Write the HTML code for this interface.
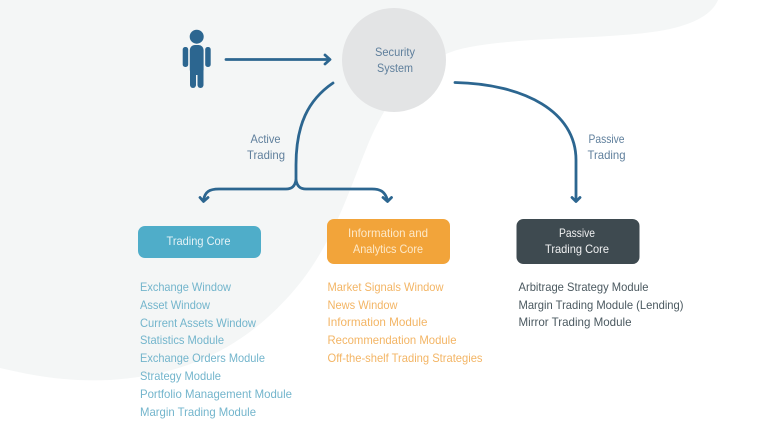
<!DOCTYPE html>
<html><head><meta charset="utf-8"><style>
html,body{margin:0;padding:0;background:#fff;width:781px;height:445px;overflow:hidden}
svg{display:block}
text{font-family:"Liberation Sans",sans-serif;font-size:12px}
</style></head><body>
<svg width="781" height="445" viewBox="0 0 781 445" xmlns="http://www.w3.org/2000/svg">
<path d="M0 0H718C712 14 695 24 665 30C610 40 530 36 470 47C425 55 395 85 372 135C350 185 335 245 290 295C245 345 190 375 110 380C65 382 30 375 0 368Z" fill="#f4f6f6"/>
<circle cx="394" cy="60" r="52" fill="#e3e4e5"/>
<g fill="#2c6690">
<circle cx="196.700" cy="36.700" r="7"/>
<rect x="189.800" y="45" width="13.800" height="30" rx="5"/>
<rect x="182.700" y="47" width="5.500" height="20" rx="2.500"/>
<rect x="205.200" y="47" width="5.500" height="20" rx="2.500"/>
<rect x="190" y="62" width="6" height="26" rx="3"/>
<rect x="197.500" y="62" width="6" height="26" rx="3"/>
</g>
<g fill="none" stroke="#2c6690" stroke-width="2.800" stroke-linecap="round" stroke-linejoin="round">
<path d="M226 59.500H329"/><path d="M325 55L330 59.500L325 64"/>
<path d="M333 83C308 100 296 125 296 165V180C295 186 292 189 286 189H219C209 189 205 192 203.500 200"/>
<path d="M296 180C297 186 300 189 306 189H372C381 189 385 192 387.500 200"/>
<path d="M200 197.500L203.500 201.500L208 197.500"/><path d="M383 197.500L387.500 201.500L391.500 197.500"/>
<path d="M455 82.500C525 84 576 112 576 160V201"/><path d="M572 197.500L576 201.500L580 197.500"/>
</g>
<rect x="138" y="226" width="123" height="32" rx="7" fill="#4fadc9"/>
<rect x="327" y="219" width="123" height="45" rx="7" fill="#f2a43a"/>
<rect x="516.500" y="219" width="123" height="45" rx="7" fill="#3e4a50"/>
<g text-anchor="middle">
<g fill="#5f7f9c">
<text x="395" y="56" textLength="40" lengthAdjust="spacingAndGlyphs">Security</text>
<text x="395" y="72" textLength="36" lengthAdjust="spacingAndGlyphs">System</text>
<text x="265.500" y="143" textLength="30" lengthAdjust="spacingAndGlyphs">Active</text>
<text x="266" y="159" textLength="38" lengthAdjust="spacingAndGlyphs">Trading</text>
<text x="606.500" y="143" textLength="36" lengthAdjust="spacingAndGlyphs">Passive</text>
<text x="606.500" y="159" textLength="38" lengthAdjust="spacingAndGlyphs">Trading</text>
</g>
<text x="198.500" y="245" fill="#e4f2f6" textLength="64" lengthAdjust="spacingAndGlyphs">Trading Core</text>
<g fill="#fde9c9">
<text x="388" y="237" textLength="80" lengthAdjust="spacingAndGlyphs">Information and</text>
<text x="388" y="253" textLength="70" lengthAdjust="spacingAndGlyphs">Analytics Core</text>
</g>
<g fill="#f0f1f2">
<text x="577" y="237" textLength="36" lengthAdjust="spacingAndGlyphs">Passive</text>
<text x="577" y="253" textLength="64" lengthAdjust="spacingAndGlyphs">Trading Core</text>
</g>
</g>
<g fill="#73b5cc">
<text x="140" y="291" textLength="91" lengthAdjust="spacingAndGlyphs">Exchange Window</text>
<text x="140" y="309" textLength="70" lengthAdjust="spacingAndGlyphs">Asset Window</text>
<text x="140" y="327" textLength="116" lengthAdjust="spacingAndGlyphs">Current Assets Window</text>
<text x="140" y="344" textLength="84" lengthAdjust="spacingAndGlyphs">Statistics Module</text>
<text x="140" y="362" textLength="125" lengthAdjust="spacingAndGlyphs">Exchange Orders Module</text>
<text x="140" y="380" textLength="81" lengthAdjust="spacingAndGlyphs">Strategy Module</text>
<text x="140" y="398" textLength="152" lengthAdjust="spacingAndGlyphs">Portfolio Management Module</text>
<text x="140" y="416" textLength="116" lengthAdjust="spacingAndGlyphs">Margin Trading Module</text>
</g>
<g fill="#f3b565">
<text x="327.500" y="291" textLength="116" lengthAdjust="spacingAndGlyphs">Market Signals Window</text>
<text x="327.500" y="309" textLength="70" lengthAdjust="spacingAndGlyphs">News Window</text>
<text x="327.500" y="326" textLength="100" lengthAdjust="spacingAndGlyphs">Information Module</text>
<text x="327.500" y="344" textLength="129" lengthAdjust="spacingAndGlyphs">Recommendation Module</text>
<text x="327.500" y="362" textLength="155" lengthAdjust="spacingAndGlyphs">Off-the-shelf Trading Strategies</text>
</g>
<g fill="#4b5960">
<text x="518.500" y="291" textLength="130" lengthAdjust="spacingAndGlyphs">Arbitrage Strategy Module</text>
<text x="518.500" y="309" textLength="165" lengthAdjust="spacingAndGlyphs">Margin Trading Module (Lending)</text>
<text x="518.500" y="326" textLength="113" lengthAdjust="spacingAndGlyphs">Mirror Trading Module</text>
</g>
</svg>
</body></html>
